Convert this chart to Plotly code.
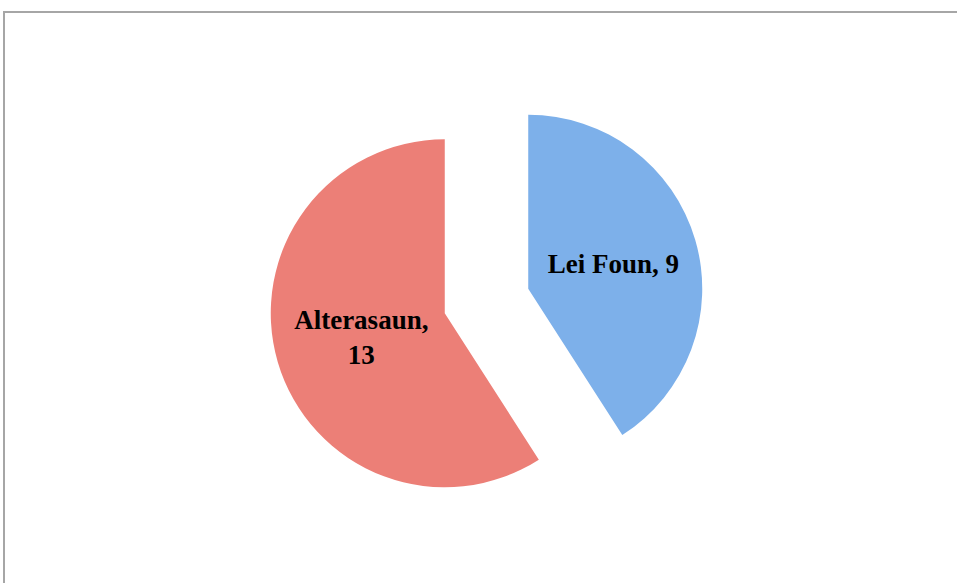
import plotly.graph_objects as go

labels = ["Lei Foun", "Alterasaun"]
values = [9, 13]
colors = ["#7DB0EA", "#EC7F77"]
pulls = [0.25, 0.25]
templates = ["%{label}, %{value}", "%{label},<br>%{value}"]

W, H = 957, 583

fig = go.Figure(go.Pie(
    labels=labels,
    values=values,
    sort=False,
    direction="clockwise",
    rotation=0,
    pull=pulls,
    marker=dict(colors=colors, line=dict(width=0)),
    texttemplate=templates,
    textposition="inside",
    insidetextorientation="horizontal",
    insidetextfont=dict(family="Liberation Serif", size=27, color="black", weight="bold"),
    hoverinfo="label+value",
    showlegend=False,
    domain=dict(x=[236.5 / W, 736.5 / W], y=[64.5 / H, 499.5 / H]),
))

fig.update_layout(
    width=W, height=H,
    margin=dict(l=0, r=0, t=0, b=0),
    paper_bgcolor="white",
    plot_bgcolor="white",
    shapes=[dict(
        type="rect", xref="paper", yref="paper",
        x0=4 / W, x1=1.02, y0=-0.02, y1=(H - 12) / H,
        line=dict(color="#A6A6A6", width=2),
        fillcolor="rgba(0,0,0,0)",
    )],
)

fig.write_html(
    "out.html",
    config={"displayModeBar": False},
    post_script="document.body.style.margin='0';document.body.style.overflow='hidden';",
)
